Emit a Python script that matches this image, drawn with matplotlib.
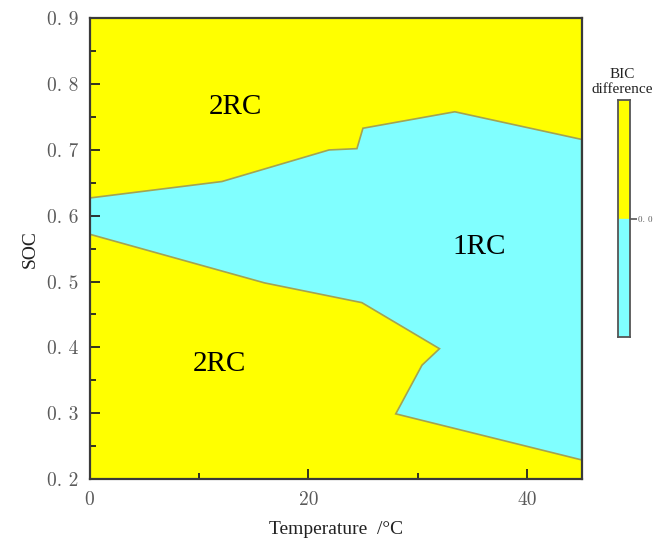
import numpy as np
import matplotlib
matplotlib.use("Agg")
import matplotlib.pyplot as plt
from matplotlib.ticker import MultipleLocator, FixedLocator

# boundary between the 1RC and 2RC regions (temperature in degC, SOC)
upper_temp = [0, 12.1, 21.9, 24.45, 25.0, 33.4, 45]
upper_soc = [0.627, 0.652, 0.700, 0.702, 0.733, 0.758, 0.716]
lower_temp = [45, 28.0, 30.4, 32.0, 24.9, 16.0, 0]
lower_soc = [0.229, 0.299, 0.373, 0.398, 0.468, 0.498, 0.572]

regions = [("2RC", 13.3, 0.765), ("2RC", 11.9, 0.375), ("1RC", 35.6, 0.552)]

x_ticks = [0, 20, 40]
y_ticks = [0.2, 0.3, 0.4, 0.5, 0.6, 0.7, 0.8, 0.9]

YELLOW = "#ffff00"
CYAN = "#80ffff"
EDGE = "#a3a352"
SPINE = "#3a3a3a"
TICKTXT = "#5a5a5a"
SERIF = ["Liberation Serif", "DejaVu Serif"]

fig = plt.figure(figsize=(6.54, 5.39), dpi=100, facecolor="white")
ax = fig.add_axes([0.1369, 0.1113, 0.7525, 0.8547])
ax.set_facecolor(YELLOW)

poly_t = upper_temp + lower_temp
poly_s = upper_soc + lower_soc
ax.fill(poly_t, poly_s, facecolor=CYAN, edgecolor=EDGE, linewidth=1.2, zorder=1)

for txt, t, s in regions:
    ax.text(t, s, txt, fontsize=21, family=SERIF, color="black",
            ha="center", va="center", zorder=3)

ax.set_xlim(0, 45)
ax.set_ylim(0.2, 0.9)
ax.xaxis.set_major_locator(FixedLocator(x_ticks))
ax.xaxis.set_minor_locator(FixedLocator([10, 30]))
ax.yaxis.set_major_locator(FixedLocator(y_ticks))
ax.yaxis.set_minor_locator(MultipleLocator(0.05))
ax.set_xticklabels([str(v) for v in x_ticks], family="cmr10", fontsize=14, color=TICKTXT)
ax.set_yticklabels([f"{v:.1f}".replace(".", ". ") for v in y_ticks],
                   family="cmr10", fontsize=14, color=TICKTXT)
ax.tick_params(which="both", direction="in", color="#222222", width=1.3,
               top=False, right=False)
ax.tick_params(which="major", length=7)
ax.tick_params(axis="x", which="major", pad=9)
ax.tick_params(axis="y", which="major", pad=8)
ax.tick_params(which="minor", length=4.5)
for sp in ax.spines.values():
    sp.set_color(SPINE)
    sp.set_linewidth(1.6)

ax.set_xlabel("Temperature  /°C", family=SERIF, fontsize=14, color="#222222", labelpad=8)
ax.set_ylabel("SOC", family=SERIF, fontsize=14, color="#222222", labelpad=6)

# two-colour legend bar for the sign of the BIC difference
cax = fig.add_axes([0.945, 0.3748, 0.0183, 0.4388])
cax.axhspan(0, 1, color=YELLOW)
cax.axhspan(-1, 0, color=CYAN)
cax.set_xlim(0, 1)
cax.set_ylim(-1, 1)
cax.set_xticks([])
cax.yaxis.tick_right()
cax.set_yticks([0])
cax.set_yticklabels(["0. 0"], family="cmr10", fontsize=6.5, color=TICKTXT)
cax.tick_params(axis="y", direction="out", length=5, width=1.2, color="#555555", pad=0.5)
for sp in cax.spines.values():
    sp.set_color("#555555")
    sp.set_linewidth(1.3)
fig.text(0.951, 0.848, "BIC\ndifference", family=SERIF, fontsize=11,
         ha="center", va="center", linespacing=1.15, color="#222222")

fig.savefig("out.png", dpi=100)
